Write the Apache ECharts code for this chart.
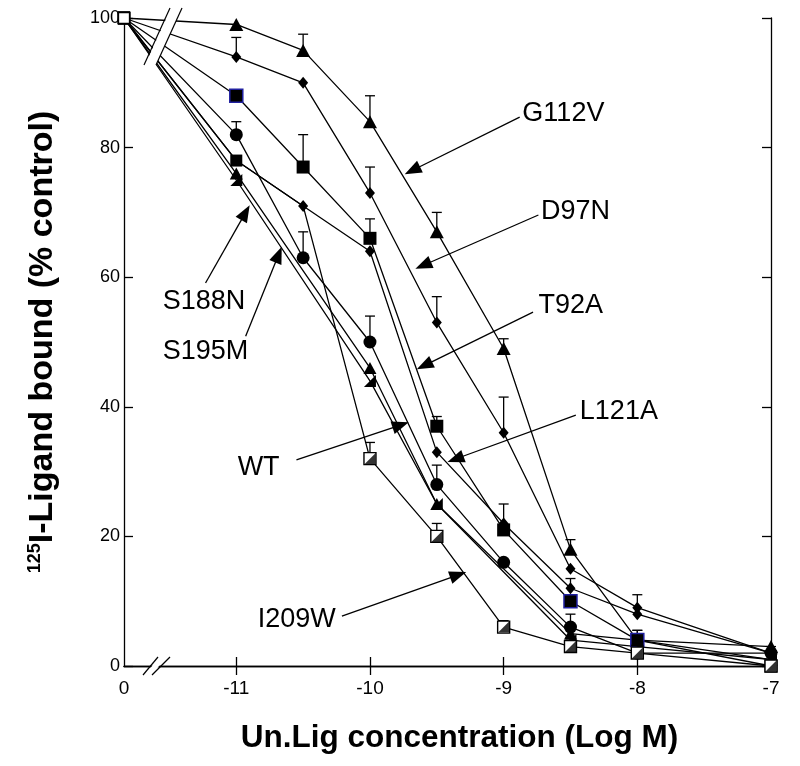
<!DOCTYPE html>
<html><head><meta charset="utf-8">
<script src="https://cdn.jsdelivr.net/npm/echarts@6/dist/echarts.min.js"></script>
<style>html,body{margin:0;padding:0;background:#fff}#c{width:800px;height:766px}</style>
</head><body><div id="c"></div><script>
// ---------- data ----------
const CONTROL_X = -11.84;                       // position of the "0" (control) point on the broken axis
const xValues = [CONTROL_X, -11, -10.5, -10, -9.5, -9, -8.5, -8, -7];
const xTickValues = [-11, -10, -9, -8];
const xLabelValues = [CONTROL_X, -11, -10, -9, -8, -7];

const G112V     = [100, 99, 95, 84, 67, 49, 18, 4, 3];
const G112V_err = [null, null, 2.5, 4, 3, 1.5, 1.5, null, null];
const D97N      = [100, 94, 90, 73, 53, 36, 15, 9, 2];
const D97N_err  = [null, 3, null, 4, 4, 5.5, null, 2, null];
const T92A      = [100, 88, 77, 66, 37, 21, 10, 4, 0];
const T92A_err  = [null, null, 5, 3, 1.5, 4, null, 1.5, null];
const L121A     = [100, 78, 71, 64, 33, 22, 12, 8, 2];
const L121A_err = [null, null, null, null, null, null, 1.5, null, null];
const S195M     = [100, 82, 63, 50, 28, 16, 6, 2, 2];
const S195M_err = [null, 2, 4, 4, 3, null, 2, null, 1];
const WT        = [100, 76, null, 46, 25, null, 5, 4, 1];
const WT_err    = [null, null, null, null, null, null, null, 1.5, null];
const S188N     = [100, 75, null, 44, 25, null, 4, 3, 1];
const S188N_err = [null, null, null, null, null, null, null, null, null];
const I209W     = [100, 78, 71, 32, 20, 6, 3, 2, 0];
const I209W_err = [null, null, null, 2.5, 2, 1, 1, null, null];

// annotations (data units): label position (left/middle), arrow start, arrow tip
const annotLabels = ['G112V', 'D97N', 'T92A', 'L121A', 'WT', 'S188N', 'S195M', 'I209W'];
const annotText   = [[-8.86, 85.3], [-8.72, 70.1], [-8.74, 55.7], [-8.43, 39.2], [-10.99, 30.7], [-11.55, 56.2], [-11.55, 48.5], [-10.84, 7.1]];
const annotFrom   = [[-8.88, 84.7], [-8.74, 69.6], [-8.78, 54.6], [-8.46, 38.7], [-10.55, 31.8], [-11.23, 59.1], [-10.93, 50.9], [-10.21, 7.7]];
const annotTo     = [[-9.74, 75.9], [-9.66, 61.3], [-9.65, 45.8], [-9.42, 31.5], [-9.71, 37.6], [-10.90, 71.1], [-10.66, 64.7], [-9.28, 14.5]];

// ---------- build ----------
const FONT = '"Liberation Sans", Arial, Helvetica, sans-serif';
const HALF_TRI = 'path://M10,0L10,10L0,10Z';
const defs = [
  {name:'G112V', v:G112V, e:G112V_err, symbol:'triangle', size:[14,13]},
  {name:'D97N',  v:D97N,  e:D97N_err,  symbol:'diamond',  size:[10,12]},
  {name:'L121A', v:L121A, e:L121A_err, symbol:'diamond',  size:[10,12], squareAt:[1]},
  {name:'T92A',  v:T92A,  e:T92A_err,  symbol:'rect',     size:[13,13]},
  {name:'S195M', v:S195M, e:S195M_err, symbol:'circle',   size:13},
  {name:'WT',    v:WT,    e:WT_err,    symbol:'triangle', size:[13,12]},
  {name:'S188N', v:S188N, e:S188N_err, symbol:HALF_TRI,   size:[12,12]},
  {name:'I209W', v:I209W, e:I209W_err, symbol:'rect',     size:[12,12], half:true, hide:[1,2]}
];

const series = [];
const errData = [];
defs.forEach(d => {
  const data = [];
  const halfData = [];
  xValues.forEach((x, i) => {
    if (d.v[i] == null) return;
    if (i === 0) {
      data.push({value:[x, d.v[i]], symbol:'rect', symbolSize:11, itemStyle:{color:'#fff', borderColor:'#000', borderWidth:1.3}});
    } else if (d.hide && d.hide.includes(i)) {
      data.push({value:[x, d.v[i]], symbol:'none'});
    } else if (d.squareAt && d.squareAt.includes(i)) {
      data.push({value:[x, d.v[i]], symbol:'rect', symbolSize:12});
    } else if (d.half) {
      data.push({value:[x, d.v[i]], itemStyle:{color:'#fff', borderColor:'#000', borderWidth:1.4}});
      halfData.push([x, d.v[i]]);
    } else if (d.name === 'T92A' && (i === 1 || i === 6 || i === 7)) {
      data.push({value:[x, d.v[i]], itemStyle:{color:'#000', borderColor:'#2020a0', borderWidth:1.5}});
    } else {
      data.push([x, d.v[i]]);
    }
    if (d.e[i] != null) errData.push([x, d.v[i], d.v[i] + d.e[i]]);
  });
  series.push({
    type:'line', name:d.name, data, symbol:d.symbol, symbolSize:d.size, showAllSymbol:true,
    lineStyle:{color:'#000', width:1.3}, itemStyle:{color:'#000'}, z:3, animation:false,
    emphasis:{disabled:true}
  });
  if (d.half) {
    series.push({type:'scatter', name:d.name + ' fill', data:halfData, symbol:HALF_TRI, symbolSize:[11,11],
      itemStyle:{color:'#000'}, z:4, animation:false, emphasis:{disabled:true}});
  }
});
series.push({
  type:'custom', name:'err', data:errData, z:2, animation:false,
  encode:{x:0, y:[1,2]},
  renderItem(params, api){
    const x = api.value(0);
    const p1 = api.coord([x, api.value(1)]);
    const p2 = api.coord([x, api.value(2)]);
    const w = 5;
    return {type:'group', children:[
      {type:'line', shape:{x1:p1[0], y1:p1[1], x2:p2[0], y2:p2[1]}, style:{stroke:'#000', lineWidth:1.3}},
      {type:'line', shape:{x1:p2[0]-w, y1:p2[1], x2:p2[0]+w, y2:p2[1]}, style:{stroke:'#000', lineWidth:1.3}}
    ]};
  }
});

const axisLine = {show:true, lineStyle:{color:'#000', width:1.3}};
const option = {
  animation:false,
  backgroundColor:'#fff',
  grid:{left:124, right:29, top:18, bottom:100},
  xAxis:[
    {type:'value', min:CONTROL_X, max:-7, position:'bottom', axisLine,
     axisTick:{show:true, inside:true, length:9, customValues:xTickValues, lineStyle:{color:'#000', width:1.3}},
     axisLabel:{customValues:xLabelValues, formatter:v => Math.abs(v - CONTROL_X) < 1e-6 ? '0' : String(v),
                fontSize:19, color:'#000', fontFamily:FONT, margin:13},
     splitLine:{show:false},
     name:'Un.Lig concentration (Log M)', nameLocation:'middle', nameGap:56,
     nameTextStyle:{fontSize:31.5, fontWeight:'bold', color:'#000', fontFamily:FONT, padding:[0,0,0,24]}},
    {type:'value', min:CONTROL_X, max:-7, position:'top', axisLine,
     axisTick:{show:true, inside:true, length:9, customValues:xTickValues, lineStyle:{color:'#000', width:1.3}},
     axisLabel:{show:false}, splitLine:{show:false}}
  ],
  yAxis:[
    {type:'value', min:0, max:100, interval:20, axisLine,
     axisTick:{show:true, inside:true, length:9, lineStyle:{color:'#000', width:1.3}},
     axisLabel:{fontSize:18, color:'#000', fontFamily:FONT, margin:4},
     splitLine:{show:false},
     name:'{s|125}{m|I-Ligand bound (% control)}', nameLocation:'middle', nameGap:64, nameRotate:90,
     nameTextStyle:{color:'#000', fontFamily:FONT,
       rich:{s:{fontSize:18, fontWeight:'bold', fontFamily:FONT, color:'#000', padding:[0,0,16,0]},
             m:{fontSize:34, fontWeight:'bold', fontFamily:FONT, color:'#000'}}}},
    {type:'value', min:0, max:100, interval:20, position:'right', axisLine,
     axisTick:{show:true, inside:true, length:9, lineStyle:{color:'#000', width:1.3}},
     axisLabel:{show:false}, splitLine:{show:false}}
  ],
  series
};

const chart = echarts.init(document.getElementById('c'));
chart.setOption(option);

// ---------- annotations & axis breaks ----------
const px = p => chart.convertToPixel({xAxisIndex:0, yAxisIndex:0}, p);
const graphics = [];
annotLabels.forEach((lab, i) => {
  const t = px(annotText[i]);
  const a = px(annotFrom[i]);
  const b = px(annotTo[i]);
  graphics.push({type:'text', x:t[0], y:t[1], z:50,
    style:{text:lab, fontSize:27, fontFamily:FONT, fill:'#000', verticalAlign:'middle', align:'left'}});
  const dx = b[0]-a[0], dy = b[1]-a[1], L = Math.hypot(dx, dy);
  const ux = dx/L, uy = dy/L, hl = 17, hw = 6.5;
  const bx = b[0]-ux*hl, by = b[1]-uy*hl;
  graphics.push({type:'line', z:50, shape:{x1:a[0], y1:a[1], x2:bx+ux*2, y2:by+uy*2}, style:{stroke:'#000', lineWidth:1.3}});
  graphics.push({type:'polygon', z:50, shape:{points:[[b[0],b[1]],[bx-uy*hw, by+ux*hw],[bx+uy*hw, by-ux*hw]]}, style:{fill:'#000'}});
});
// top break (through the lines leaving the control point)
const c0 = px([CONTROL_X, 100]);
const ox = c0[0], oy = c0[1];
graphics.push({type:'polygon', z:60, shape:{points:[[ox+21,oy+47],[ox+47,oy-10],[ox+58,oy-10],[ox+32,oy+47]]}, style:{fill:'#fff'}});
graphics.push({type:'line', z:61, shape:{x1:ox+20, y1:oy+47, x2:ox+46, y2:oy-10}, style:{stroke:'#000', lineWidth:1.2}});
graphics.push({type:'line', z:61, shape:{x1:ox+32, y1:oy+47, x2:ox+58, y2:oy-10}, style:{stroke:'#000', lineWidth:1.2}});
// bottom break on x axis
const c1 = px([CONTROL_X, 0]);
const bxo = c1[0], byo = c1[1];
graphics.push({type:'polygon', z:60, shape:{points:[[bxo+21,byo+9],[bxo+35,byo-9],[bxo+42,byo-9],[bxo+28,byo+9]]}, style:{fill:'#fff'}});
graphics.push({type:'line', z:61, shape:{x1:bxo+19, y1:byo+9, x2:bxo+34, y2:byo-9}, style:{stroke:'#000', lineWidth:1.2}});
graphics.push({type:'line', z:61, shape:{x1:bxo+28, y1:byo+9, x2:bxo+46, y2:byo-9}, style:{stroke:'#000', lineWidth:1.2}});

chart.setOption({graphic:graphics});
</script></body></html>
